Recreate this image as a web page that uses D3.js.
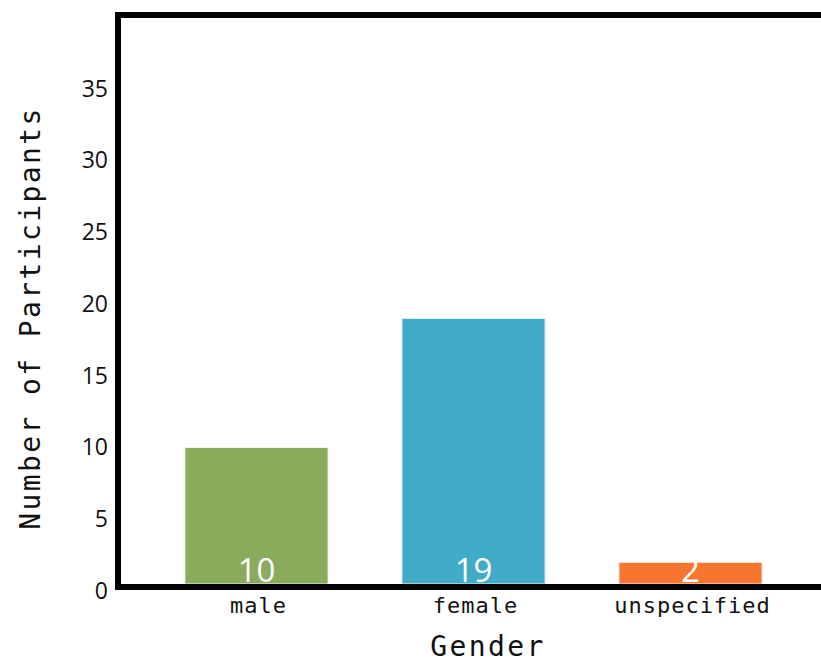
<!DOCTYPE html>
<html>
<head>
<meta charset="utf-8">
<script src="https://cdn.jsdelivr.net/npm/d3@7"></script>
<style>
  html, body { margin: 0; padding: 0; background: #fff; }
  svg { display: block; }
</style>
</head>
<body>
<svg id="chart" width="821" height="662"></svg>
<script>
// Participants by gender
const categories = ["male", "female", "unspecified"];
const counts = [10, 19, 2];
const barColors = ["#8AAA5C", "#41ABC7", "#F7752E"];
const yTicks = [0, 5, 10, 15, 20, 25, 30, 35];
const xTitle = "Gender";
const yTitle = "Number of Participants";

const svg = d3.select("#chart");
const W = 821, H = 662;
const axisX = 118, topY = 15, baseY = 587;
const monoFont = "'DejaVu Sans Mono', monospace";
const sansFont = "'Open Sans', sans-serif";

const x = d3.scaleBand()
  .domain(categories)
  .range([148, 799])
  .paddingInner(0.34)
  .paddingOuter(0.17);

const y = d3.scaleLinear()
  .domain([0, 40])
  .range([591, 17]);

// bars (sitting on the top edge of the baseline)
svg.append("g").selectAll("rect")
  .data(categories)
  .join("rect")
  .attr("x", d => x(d))
  .attr("width", x.bandwidth())
  .attr("y", (d, i) => y(counts[i]))
  .attr("height", (d, i) => (baseY - 3) - y(counts[i]))
  .attr("fill", (d, i) => barColors[i])
  .attr("stroke", "#eef4f6")
  .attr("stroke-width", 1);

// value labels inside the bars
svg.append("g").selectAll("text")
  .data(categories)
  .join("text")
  .attr("x", d => x(d) + x.bandwidth() / 2)
  .attr("y", 582)
  .attr("text-anchor", "middle")
  .attr("fill", "#fff")
  .style("font-family", sansFont)
  .style("font-size", "33px")
  .text((d, i) => counts[i]);

// y axis tick labels
const yAxis = d3.axisLeft(y).tickValues(yTicks).tickSize(0).tickPadding(9);
const gy = svg.append("g").attr("transform", `translate(${axisX - 1},0)`).call(yAxis);
gy.select(".domain").remove();
gy.selectAll("text")
  .style("font-family", sansFont)
  .style("font-size", "23px")
  .attr("fill", "#111");

// x axis tick labels
const xAxis = d3.axisBottom(x).tickSize(0).tickPadding(0);
const gx = svg.append("g").attr("transform", `translate(0,${baseY})`).call(xAxis);
gx.select(".domain").remove();
gx.selectAll("text")
  .attr("dy", null)
  .attr("y", 26)
  .attr("dx", 2)
  .style("font-family", monoFont)
  .style("font-size", "22px")
  .style("letter-spacing", "1px")
  .attr("fill", "#111");

// frame lines: left, top, bottom
const frame = svg.append("g").attr("stroke", "#000").attr("stroke-width", 6);
frame.append("line").attr("x1", axisX).attr("x2", axisX).attr("y1", topY - 3).attr("y2", baseY + 3);
frame.append("line").attr("x1", axisX - 3).attr("x2", W).attr("y1", topY).attr("y2", topY);
frame.append("line").attr("x1", axisX - 3).attr("x2", W).attr("y1", baseY).attr("y2", baseY);

// axis titles
svg.append("text")
  .attr("x", 488)
  .attr("y", 656)
  .attr("text-anchor", "middle")
  .style("font-family", monoFont)
  .style("font-size", "28px")
  .style("letter-spacing", "2.4px")
  .attr("fill", "#111")
  .text(xTitle);

svg.append("text")
  .attr("transform", "translate(40,318) rotate(-90)")
  .attr("text-anchor", "middle")
  .style("font-family", monoFont)
  .style("font-size", "28px")
  .style("letter-spacing", "2.4px")
  .attr("fill", "#111")
  .text(yTitle);
</script>
</body>
</html>
